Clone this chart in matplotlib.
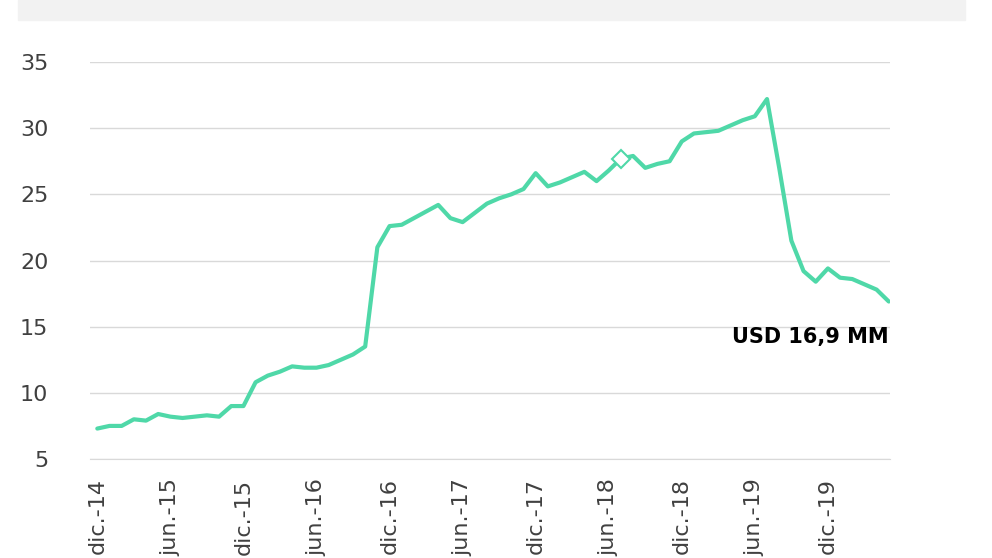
import matplotlib
matplotlib.use("Agg")
import matplotlib.pyplot as plt
from matplotlib.patches import Rectangle

values = [7.3, 7.5, 7.5, 8.0, 7.9, 8.4, 8.2, 8.1, 8.2, 8.3, 8.2, 9.0,
          9.0, 10.8, 11.3, 11.6, 12.0, 11.9, 11.9, 12.1, 12.5, 12.9, 13.5, 21.0,
          22.6, 22.7, 23.2, 23.7, 24.2, 23.2, 22.9, 23.6, 24.3, 24.7, 25.0, 25.4,
          26.6, 25.6, 25.9, 26.3, 26.7, 26.0, 26.8, 27.7, 27.9, 27.0, 27.3, 27.5,
          29.0, 29.6, 29.7, 29.8, 30.2, 30.6, 30.9, 32.2, 27.0, 21.5, 19.2, 18.4,
          19.4, 18.7, 18.6, 18.2, 17.8, 16.9]
tick_labels = ["dic.-14", "jun.-15", "dic.-15", "jun.-16", "dic.-16", "jun.-17",
               "dic.-17", "jun.-18", "dic.-18", "jun.-19", "dic.-19"]
marker_index = 43
annotation = "USD 16,9 MM"

color = "#4fd8a8"
fig = plt.figure(figsize=(9.92, 5.58), dpi=100)
fig.patches.append(Rectangle((18/992, 1-20/558), 947/992, 20/558, transform=fig.transFigure,
                             color="#f2f2f2", zorder=0))
ax = fig.add_axes([90/992, 1-459/558, 800/992, 397/558])
x = list(range(len(values)))
ax.plot(x, values, color=color, lw=3, solid_joinstyle="round", solid_capstyle="round")
ax.plot([marker_index], [values[marker_index]], marker="D", ms=9, mfc="white", mec=color, mew=1.5)
ax.set_ylim(5, 35)
ax.set_xlim(-0.6, len(values) - 0.9)
ax.set_yticks(range(5, 36, 5))
ax.set_xticks(range(0, 61, 6))
ax.set_xticklabels(tick_labels, rotation=90, fontsize=16, color="#404040")
ax.tick_params(axis="y", labelsize=16, colors="#404040", length=0, pad=30)
ax.tick_params(axis="x", length=0, pad=14)
ax.grid(axis="y", color="#d9d9d9", lw=1)
ax.set_axisbelow(True)
for s in ["top", "right", "left"]:
    ax.spines[s].set_visible(False)
ax.spines["bottom"].set_color("#d9d9d9")
ax.text(len(values) - 1, 14.2, annotation, ha="right", va="center", fontsize=15,
        fontweight="bold", color="black")
fig.savefig("out.png", dpi=100)
